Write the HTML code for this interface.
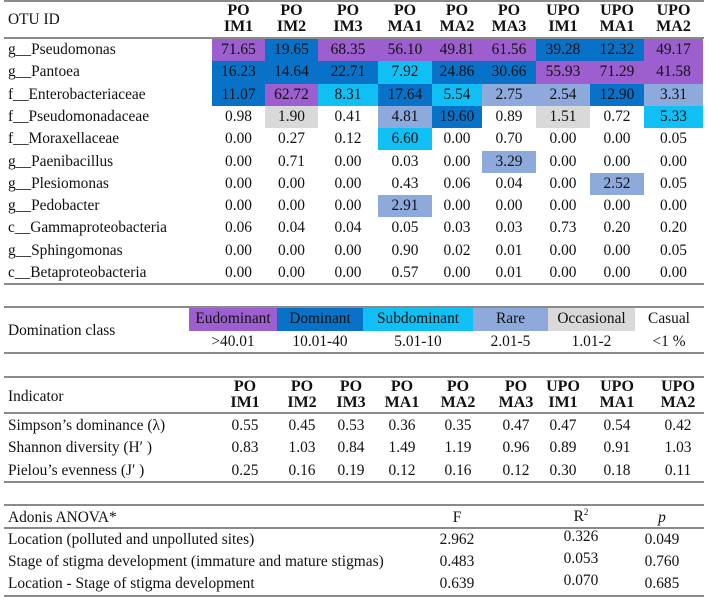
<!DOCTYPE html>
<html><head><meta charset="utf-8">
<style>
html,body{margin:0;padding:0;background:#fff;}
#root{position:relative;width:708px;height:597px;overflow:hidden;font-family:"Liberation Serif",serif;font-size:15.4px;color:#111;}
.t{position:absolute;white-space:nowrap;line-height:16px;}
.c{transform:translateX(-50%);text-align:center;}
.b{font-weight:bold;font-size:16px;}
.hl{position:absolute;left:4px;width:700px;height:2px;background:#8a8a8a;}
.cell{position:absolute;}
</style></head>
<body>
<div id="root"></div>
<script>
const colHeads1=["PO|IM1","PO|IM2","PO|IM3","PO|MA1","PO|MA2","PO|MA3","UPO|IM1","UPO|MA1","UPO|MA2"];
const taxa=["g__Pseudomonas","g__Pantoea","f__Enterobacteriaceae","f__Pseudomonadaceae","f__Moraxellaceae","g__Paenibacillus","g__Plesiomonas","g__Pedobacter","c__Gammaproteobacteria","g__Sphingomonas","c__Betaproteobacteria"];
const abund=[
[71.65,19.65,68.35,56.10,49.81,61.56,39.28,12.32,49.17],
[16.23,14.64,22.71,7.92,24.86,30.66,55.93,71.29,41.58],
[11.07,62.72,8.31,17.64,5.54,2.75,2.54,12.90,3.31],
[0.98,1.90,0.41,4.81,19.60,0.89,1.51,0.72,5.33],
[0.00,0.27,0.12,6.60,0.00,0.70,0.00,0.00,0.05],
[0.00,0.71,0.00,0.03,0.00,3.29,0.00,0.00,0.00],
[0.00,0.00,0.00,0.43,0.06,0.04,0.00,2.52,0.05],
[0.00,0.00,0.00,2.91,0.00,0.00,0.00,0.00,0.00],
[0.06,0.04,0.04,0.05,0.03,0.03,0.73,0.20,0.20],
[0.00,0.00,0.00,0.90,0.02,0.01,0.00,0.00,0.05],
[0.00,0.00,0.00,0.57,0.00,0.01,0.00,0.00,0.00]];
const classNames=["Eudominant","Dominant","Subdominant","Rare","Occasional","Casual"];
const classRanges=[">40.01","10.01-40","5.01-10","2.01-5","1.01-2","<1 %"];
const classThresh=[40.01,10.01,5.01,2.01,1.01,-1];
const indicators=["Simpson’s dominance (λ)","Shannon diversity (H′ )","Pielou’s evenness (J′ )"];
const indVals=[
[0.55,0.45,0.53,0.36,0.35,0.47,0.47,0.54,0.42],
[0.83,1.03,0.84,1.49,1.19,0.96,0.89,0.91,1.03],
[0.25,0.16,0.19,0.12,0.16,0.12,0.30,0.18,0.11]];
const adonisRows=["Location (polluted and unpolluted sites)","Stage of stigma development (immature and mature stigmas)","Location - Stage of stigma development"];
const adonisF=[2.962,0.483,0.639];
const adonisR2=[0.326,0.053,0.070];
const adonisP=[0.049,0.760,0.685];

const classColors=["#9d5fd0","#0872c9","#10bff4","#8eaadd","#d9d9d9","#ffffff"];
const colEdges=[212,265,318,378,432,482,536,590,644,703];
const indCenters=[245,302,351,402,458,516,563,617,678];
const domEdges=[189,277,363,473,548,635,703];
const R=document.getElementById('root');

function txt(s,x,y,cls,name){const d=document.createElement('div');d.className='t '+(cls||'');d.style.left=x+'px';d.style.top=y+'px';d.innerHTML=s;


R.appendChild(d);return d;}
function line(y,name){const d=document.createElement('div');d.className='hl';d.style.top=y+'px';


R.appendChild(d);}
function rect(x,y,w,h,c,name){const d=document.createElement('div');d.className='cell';d.style.cssText+='left:'+x+'px;top:'+y+'px;width:'+w+'px;height:'+h+'px;background:'+c;


R.appendChild(d);}
function cls(v){for(let i=0;i<classThresh.length;i++){if(v>=classThresh[i])return i;}return 5;}

// Table 1
line(0,'table1-top-rule');
txt('OTU ID',8,12,'','otu-id-header');
colHeads1.forEach((h,i)=>{const cx=(colEdges[i]+colEdges[i+1])/2;const p=h.split('|');
txt(p[0],cx,3,'c b','col-header-'+i+'-top');txt(p[1],cx,19,'c b','col-header-'+i+'-bottom');});
line(37,'table1-header-rule');
const rowTop=39,rowH=22.3;
taxa.forEach((t,r)=>{const y=rowTop+r*rowH;
txt(t,8,y+3,'','taxon-'+t.replace(/_+/g,'-').toLowerCase());
abund[r].forEach((v,i)=>{const k=cls(v);
if(k<5) rect(colEdges[i],y,colEdges[i+1]-colEdges[i],rowH,classColors[k],'abundance-cell-bg');
txt(v.toFixed(2),(colEdges[i]+colEdges[i+1])/2,y+3,'c','abundance-value');});});
line(283,'table1-bottom-rule');

// Domination class
line(306,'domination-top-rule');
txt('Domination class',8,323,'','domination-class-label');
classNames.forEach((n,i)=>{const x=domEdges[i],w=domEdges[i+1]-x;
rect(x,308,w,23,classColors[i],'class-swatch-'+n.toLowerCase());
txt(n,x+w/2,311,'c','class-name-'+n.toLowerCase());
txt(classRanges[i],x+w/2,334,'c','class-range-'+n.toLowerCase());});
line(352,'domination-bottom-rule');

// Indicator table
line(376,'indicator-top-rule');
txt('Indicator',8,389,'','indicator-header');
colHeads1.forEach((h,i)=>{const p=h.split('|');
txt(p[0],indCenters[i],379,'c b','ind-col-header-'+i+'-top');txt(p[1],indCenters[i],395,'c b','ind-col-header-'+i+'-bottom');});
line(412,'indicator-header-rule');
indicators.forEach((n,r)=>{const y=418+r*22.3;
txt(n,8,y,'','indicator-'+r);
indVals[r].forEach((v,i)=>txt(v.toFixed(2),indCenters[i],y,'c','indicator-value'));});
line(481,'indicator-bottom-rule');

// Adonis
line(504,'adonis-top-rule');
txt('Adonis ANOVA*',8,510,'','adonis-header');
txt('F',457,510,'c','adonis-f-header');
txt('R<sup style="font-size:9px;line-height:0">2</sup>',581,509,'c','adonis-r2-header');
txt('<i>p</i>',662,510,'c','adonis-p-header');
line(527,'adonis-header-rule');
adonisRows.forEach((n,r)=>{const y=532+r*22;
txt(n,8,y,'','adonis-row-'+r);
txt(adonisF[r].toFixed(3),457,y,'c','adonis-f-value');
txt(adonisR2[r].toFixed(3),581,y-3,'c','adonis-r2-value');
txt(adonisP[r].toFixed(3),662,y,'c','adonis-p-value');});
line(595,'adonis-bottom-rule');
</script>
</body></html>
